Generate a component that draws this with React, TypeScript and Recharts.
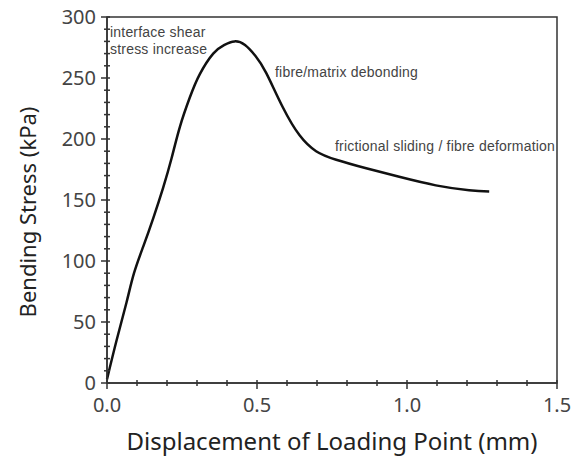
import React from "react";
import {
  LineChart,
  Line,
  XAxis,
  YAxis,
  ReferenceArea,
  ReferenceDot,
} from "recharts";

// displacement (mm) vs bending stress (kPa)
const displacement = [
  0, 0.032, 0.065, 0.09, 0.121, 0.154, 0.187, 0.215, 0.243, 0.276, 0.309,
  0.354, 0.39, 0.425, 0.46, 0.495, 0.531, 0.586, 0.642, 0.697, 0.764, 0.864,
  0.974, 1.096, 1.207, 1.274,
];
const stress = [
  3, 35, 66, 90, 112, 135, 160, 184, 210, 234, 253, 270, 277, 280, 277, 268,
  254, 226, 203, 190, 183, 176, 169, 162, 158, 157,
];

const xTicks = [
  0, 0.1, 0.2, 0.3, 0.4, 0.5, 0.6, 0.7, 0.8, 0.9, 1.0, 1.1, 1.2, 1.3, 1.4, 1.5,
];
const yTicks = [
  0, 10, 20, 30, 40, 50, 60, 70, 80, 90, 100, 110, 120, 130, 140, 150, 160,
  170, 180, 190, 200, 210, 220, 230, 240, 250, 260, 270, 280, 290, 300,
];

// annotation texts and where they sit (data units)
const noteText = [
  "interface shear",
  "stress increase",
  "fibre/matrix debonding",
  "frictional sliding / fibre deformation",
];
const noteX = [0.0, 0.0, 0.55, 0.75];
const noteY = [288, 274, 255, 194];

const data = displacement.map((d, i) => ({ d, s: stress[i] }));

const axisColor = "#333";
const font = "'Noto Sans', sans-serif";

const XTick = ({ x, y, payload }: any) => {
  const major = Math.round(payload.value * 10) % 5 === 0;
  return (
    <g>
      <line
        x1={x}
        x2={x}
        y1={y - 3}
        y2={y + (major ? 6 : 3)}
        stroke={axisColor}
        strokeWidth={1.5}
      />
      {major && (
        <text
          x={x}
          y={y + 29}
          textAnchor="middle"
          fontSize={20}
          fontFamily={font}
          fill="#444"
        >
          {payload.value.toFixed(1)}
        </text>
      )}
    </g>
  );
};

const YTick = ({ x, y, payload }: any) => {
  const major = payload.value % 50 === 0;
  return (
    <g>
      <line
        x1={x + 3}
        x2={x - (major ? 6 : 3)}
        y1={y}
        y2={y}
        stroke={axisColor}
        strokeWidth={1.5}
      />
      {major && (
        <text
          x={x - 11}
          y={y + 7}
          textAnchor="end"
          fontSize={20}
          fontFamily={font}
          fill="#444"
        >
          {payload.value}
        </text>
      )}
    </g>
  );
};

const YTitle = () => (
  <text
    x={36}
    y={212}
    transform="rotate(-90 36 212)"
    textAnchor="middle"
    fontSize={22}
    fontFamily={font}
    fill="#222"
  >
    Bending Stress (kPa)
  </text>
);

export default function App() {
  return (
    <div style={{ position: "absolute", left: 0, top: 0, background: "#fff" }}>
      <LineChart
        width={575}
        height={463}
        data={data}
        margin={{ top: 17, right: 18, left: 0, bottom: 0 }}
      >
        <XAxis
          dataKey="d"
          type="number"
          domain={[0, 1.5]}
          ticks={xTicks}
          interval={0}
          tickSize={0}
          tickMargin={0}
          tickLine={false}
          tick={<XTick />}
          height={80}
          stroke={axisColor}
          strokeWidth={1.5}
          label={{
            value: "Displacement of Loading Point (mm)",
            position: "insideBottom",
            offset: 13,
            fontSize: 24,
            fontFamily: font,
            fill: "#222",
          }}
        />
        <YAxis
          type="number"
          domain={[0, 300]}
          ticks={yTicks}
          interval={0}
          tickSize={0}
          tickMargin={0}
          tickLine={false}
          tick={<YTick />}
          width={107}
          stroke={axisColor}
          strokeWidth={1.5}
          label={<YTitle />}
        />
        <ReferenceArea
          x1={0}
          x2={1.5}
          y1={0}
          y2={300}
          fill="none"
          stroke={axisColor}
          strokeWidth={1.5}
        />
        {noteText.map((t, i) => (
          <ReferenceDot
            key={t}
            x={noteX[i]}
            y={noteY[i]}
            r={0}
            fill="none"
            stroke="none"
            label={{
              value: t,
              position: "right",
              offset: 3,
              fontSize: 14,
              letterSpacing: 0.2,
              fontFamily: "'Liberation Sans', sans-serif",
              fill: "#444",
            }}
          />
        ))}
        <Line
          dataKey="s"
          type="natural"
          stroke="#111"
          strokeWidth={2.5}
          dot={false}
          isAnimationActive={false}
        />
      </LineChart>
    </div>
  );
}
